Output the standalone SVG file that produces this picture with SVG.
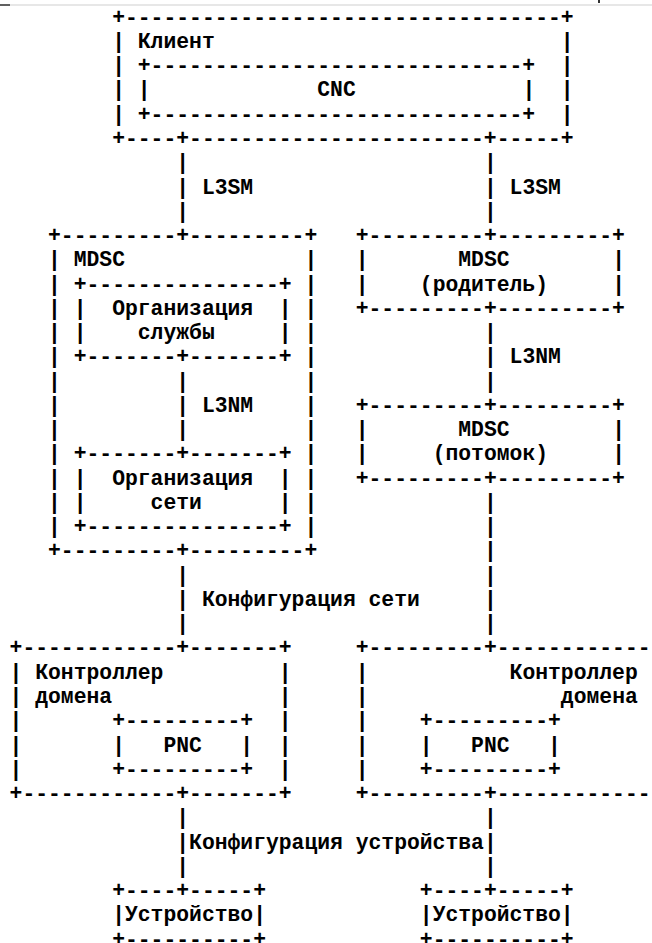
<svg xmlns="http://www.w3.org/2000/svg" width="652" height="943" viewBox="0 0 652 943">
<style>
.t{font-family:"Liberation Mono","DejaVu Sans Mono",monospace;font-size:21.37px;font-weight:bold;white-space:pre;fill:#000}
</style>
<rect width="652" height="943" fill="#fff"/>
<line x1="0" y1="5" x2="652" y2="5" stroke="#cfcfcf" stroke-width="1"/>
<line x1="0" y1="5" x2="10" y2="5" stroke="#333" stroke-width="1.5"/>
<rect x="598" y="0" width="2" height="3" fill="#333"/>

<g id="client">
<text class="t" x="112.16" y="23.7">+----------------------------------+</text>
<text class="t" x="112.16" y="145">+----+-----------------------+-----+</text>
<text class="t"><tspan x="112.16" y="47.96">|</tspan><tspan x="112.16" y="72.22">|</tspan><tspan x="112.16" y="96.48">|</tspan><tspan x="112.16" y="120.74">|</tspan></text>
<text class="t"><tspan x="560.86" y="47.96">|</tspan><tspan x="560.86" y="72.22">|</tspan><tspan x="560.86" y="96.48">|</tspan><tspan x="560.86" y="120.74">|</tspan></text>
<text class="t" x="137.8" y="47.96">Клиент</text>
<g id="cnc">
<text class="t" x="137.8" y="72.22">+-----------------------------+</text>
<text class="t" x="137.8" y="96.48">|</text>
<text class="t" x="317.28" y="96.48">CNC</text>
<text class="t" x="522.4" y="96.48">|</text>
<text class="t" x="137.8" y="120.74">+-----------------------------+</text>
</g>
</g>

<g id="mdsc-left">
<text class="t" x="48.06" y="242.04">+---------+---------+</text>
<text class="t" x="48.06" y="557.42">+---------+---------+</text>
<text class="t"><tspan x="48.06" y="266.3">|</tspan><tspan x="48.06" y="290.56">|</tspan><tspan x="48.06" y="314.82">|</tspan><tspan x="48.06" y="339.08">|</tspan><tspan x="48.06" y="363.34">|</tspan><tspan x="48.06" y="387.6">|</tspan><tspan x="48.06" y="411.86">|</tspan><tspan x="48.06" y="436.12">|</tspan><tspan x="48.06" y="460.38">|</tspan><tspan x="48.06" y="484.64">|</tspan><tspan x="48.06" y="508.9">|</tspan><tspan x="48.06" y="533.16">|</tspan></text>
<text class="t"><tspan x="304.46" y="266.3">|</tspan><tspan x="304.46" y="290.56">|</tspan><tspan x="304.46" y="314.82">|</tspan><tspan x="304.46" y="339.08">|</tspan><tspan x="304.46" y="363.34">|</tspan><tspan x="304.46" y="387.6">|</tspan><tspan x="304.46" y="411.86">|</tspan><tspan x="304.46" y="436.12">|</tspan><tspan x="304.46" y="460.38">|</tspan><tspan x="304.46" y="484.64">|</tspan><tspan x="304.46" y="508.9">|</tspan><tspan x="304.46" y="533.16">|</tspan></text>
<text class="t" x="73.7" y="266.3">MDSC</text>
<g id="service-orchestration">
<text class="t" x="73.7" y="290.56">+---------------+</text>
<text class="t"><tspan x="73.7" y="314.82">|</tspan><tspan x="73.7" y="339.08">|</tspan></text>
<text class="t"><tspan x="278.82" y="314.82">|</tspan><tspan x="278.82" y="339.08">|</tspan></text>
<text class="t" x="112.16" y="314.82">Организация</text>
<text class="t" x="137.8" y="339.08">службы</text>
<text class="t" x="73.7" y="363.34">+-------+-------+</text>
</g>
<g id="network-orchestration">
<text class="t" x="73.7" y="460.38">+-------+-------+</text>
<text class="t"><tspan x="73.7" y="484.64">|</tspan><tspan x="73.7" y="508.9">|</tspan></text>
<text class="t"><tspan x="278.82" y="484.64">|</tspan><tspan x="278.82" y="508.9">|</tspan></text>
<text class="t" x="112.16" y="484.64">Организация</text>
<text class="t" x="150.62" y="508.9">сети</text>
<text class="t" x="73.7" y="533.16">+---------------+</text>
</g>
</g>

<g id="mdsc-parent">
<text class="t" x="355.74" y="242.04">+---------+---------+</text>
<text class="t"><tspan x="355.74" y="266.3">|</tspan><tspan x="355.74" y="290.56">|</tspan></text>
<text class="t"><tspan x="612.14" y="266.3">|</tspan><tspan x="612.14" y="290.56">|</tspan></text>
<text class="t" x="458.3" y="266.3">MDSC</text>
<text class="t" x="419.84" y="290.56">(родитель)</text>
<text class="t" x="355.74" y="314.82">+---------+---------+</text>
</g>

<g id="mdsc-child">
<text class="t" x="355.74" y="411.86">+---------+---------+</text>
<text class="t"><tspan x="355.74" y="436.12">|</tspan><tspan x="355.74" y="460.38">|</tspan></text>
<text class="t"><tspan x="612.14" y="436.12">|</tspan><tspan x="612.14" y="460.38">|</tspan></text>
<text class="t" x="458.3" y="436.12">MDSC</text>
<text class="t" x="432.66" y="460.38">(потомок)</text>
<text class="t" x="355.74" y="484.64">+---------+---------+</text>
</g>

<g id="controller-left">
<text class="t" x="9.6" y="654.46">+------------+-------+</text>
<text class="t" x="9.6" y="800.02">+------------+-------+</text>
<text class="t"><tspan x="9.6" y="678.72">|</tspan><tspan x="9.6" y="702.98">|</tspan><tspan x="9.6" y="727.24">|</tspan><tspan x="9.6" y="751.5">|</tspan><tspan x="9.6" y="775.76">|</tspan></text>
<text class="t"><tspan x="278.82" y="678.72">|</tspan><tspan x="278.82" y="702.98">|</tspan><tspan x="278.82" y="727.24">|</tspan><tspan x="278.82" y="751.5">|</tspan><tspan x="278.82" y="775.76">|</tspan></text>
<text class="t" x="35.24" y="678.72">Контроллер</text>
<text class="t" x="35.24" y="702.98">домена</text>
<g id="pnc-left">
<text class="t" x="112.16" y="727.24">+---------+</text>
<text class="t" x="112.16" y="751.5">|</text>
<text class="t" x="163.44" y="751.5">PNC</text>
<text class="t" x="240.36" y="751.5">|</text>
<text class="t" x="112.16" y="775.76">+---------+</text>
</g>
</g>

<g id="controller-right">
<text class="t" x="355.74" y="654.46">+---------+------------</text>
<text class="t" x="355.74" y="800.02">+---------+------------</text>
<text class="t"><tspan x="355.74" y="678.72">|</tspan><tspan x="355.74" y="702.98">|</tspan><tspan x="355.74" y="727.24">|</tspan><tspan x="355.74" y="751.5">|</tspan><tspan x="355.74" y="775.76">|</tspan></text>
<text class="t" x="509.58" y="678.72">Контроллер</text>
<text class="t" x="560.86" y="702.98">домена</text>
<g id="pnc-right">
<text class="t" x="419.84" y="727.24">+---------+</text>
<text class="t" x="419.84" y="751.5">|</text>
<text class="t" x="471.12" y="751.5">PNC</text>
<text class="t" x="548.04" y="751.5">|</text>
<text class="t" x="419.84" y="775.76">+---------+</text>
</g>
</g>

<g id="device-left">
<text class="t" x="112.16" y="897.06">+----+-----+</text>
<text class="t" x="112.16" y="921.32">|Устройство|</text>
<text class="t" x="112.16" y="945.58">+----------+</text>
</g>

<g id="device-right">
<text class="t" x="419.84" y="897.06">+----+-----+</text>
<text class="t" x="419.84" y="921.32">|Устройство|</text>
<text class="t" x="419.84" y="945.58">+----------+</text>
</g>

<g id="connectors">
<text class="t"><tspan x="176.26" y="169.26">|</tspan><tspan x="176.26" y="193.52">|</tspan><tspan x="176.26" y="217.78">|</tspan></text>
<text class="t" x="201.9" y="193.52">L3SM</text>
<text class="t"><tspan x="483.94" y="169.26">|</tspan><tspan x="483.94" y="193.52">|</tspan><tspan x="483.94" y="217.78">|</tspan></text>
<text class="t" x="509.58" y="193.52">L3SM</text>
<text class="t"><tspan x="176.26" y="387.6">|</tspan><tspan x="176.26" y="411.86">|</tspan><tspan x="176.26" y="436.12">|</tspan></text>
<text class="t" x="201.9" y="411.86">L3NM</text>
<text class="t"><tspan x="483.94" y="339.08">|</tspan><tspan x="483.94" y="363.34">|</tspan><tspan x="483.94" y="387.6">|</tspan></text>
<text class="t" x="509.58" y="363.34">L3NM</text>
<text class="t"><tspan x="176.26" y="581.68">|</tspan><tspan x="176.26" y="605.94">|</tspan><tspan x="176.26" y="630.2">|</tspan></text>
<text class="t" x="201.9" y="605.94">Конфигурация сети</text>
<text class="t"><tspan x="483.94" y="508.9">|</tspan><tspan x="483.94" y="533.16">|</tspan><tspan x="483.94" y="557.42">|</tspan><tspan x="483.94" y="581.68">|</tspan><tspan x="483.94" y="605.94">|</tspan><tspan x="483.94" y="630.2">|</tspan></text>
<text class="t"><tspan x="176.26" y="824.28">|</tspan><tspan x="176.26" y="848.54">|</tspan><tspan x="176.26" y="872.8">|</tspan></text>
<text class="t" x="189.08" y="848.54">Конфигурация устройства</text>
<text class="t"><tspan x="483.94" y="824.28">|</tspan><tspan x="483.94" y="848.54">|</tspan><tspan x="483.94" y="872.8">|</tspan></text>
</g>
</svg>
